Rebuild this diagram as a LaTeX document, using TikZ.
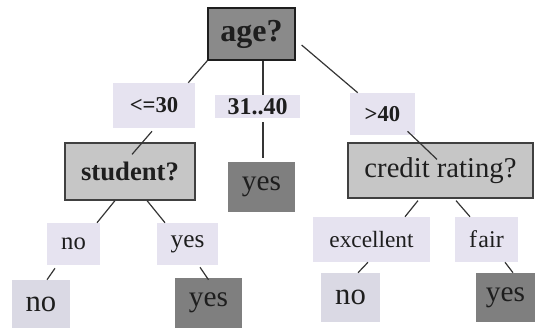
\documentclass[tikz,border=0pt]{standalone}
\usepackage{fontspec}
\setmainfont{Liberation Serif}
\usepackage{tikz}
\usetikzlibrary{calc}

\definecolor{darkbox}{HTML}{8A8A8A}
\definecolor{testbox}{HTML}{C6C6C6}
\definecolor{edgebox}{HTML}{E6E3F0}
\definecolor{nobox}{HTML}{DAD9E4}
\definecolor{ink}{HTML}{1E1E1E}

\tikzset{
  dims/.style 2 args={minimum width=0.75*#1, minimum height=0.75*#2},
  base/.style={inner sep=0pt, text=ink, anchor=center},
  root/.style={base, fill=darkbox, draw=ink, line width=0.9pt,
    font=\fontsize{24}{24}\selectfont\bfseries},
  test/.style={base, fill=testbox, draw=ink!85, line width=0.9pt},
  branch/.style={base, fill=edgebox, font=\fontsize{17.5}{17.5}\selectfont},
  leafyes/.style={base, fill=darkbox!92!black, font=\fontsize{22}{22}\selectfont},
  leafno/.style={base, fill=nobox, font=\fontsize{23}{23}\selectfont},
  link/.style={draw=ink!90, line width=0.9pt}
}

\begin{document}
\begin{tikzpicture}[x=0.75pt,y=-0.75pt]
  \useasboundingbox (0,0) rectangle (536,329);

  \node[root, dims={87}{52}] (age) at (251.5,34) {age?};

  \node[branch, dims={82}{45}, font=\fontsize{17}{17}\selectfont\bfseries] (le30) at (154,105.5) {<=30};
  \node[branch, dims={85}{23}, font=\fontsize{18}{18}\selectfont\bfseries] (mid) at (257.5,106.5) {31..40};
  \node[branch, dims={65}{42}, font=\fontsize{17}{17}\selectfont\bfseries] (gt40) at (382.5,114) {>40};

  \node[test, dims={130}{57}, font=\fontsize{20}{20}\selectfont\bfseries] (student) at (130,171.5) {student?};
  \node[leafyes, dims={67}{50}] (yesmid) at (261.5,187) {yes};
  \node[test, dims={185}{55}, font=\fontsize{21.5}{21.5}\selectfont] (credit) at (440.5,170.5) {credit rating?};

  \node[branch, dims={53}{42}, font=\fontsize{18.5}{18.5}\selectfont] (nolab) at (73.5,244) {no};
  \node[branch, dims={61}{42}, font=\fontsize{19}{19}\selectfont] (yeslab) at (187.5,244) {yes};
  \node[branch, dims={117}{45}] (exc) at (371.5,239.5) {excellent};
  \node[branch, dims={63}{45}, font=\fontsize{18}{18}\selectfont] (fair) at (486.5,239.5) {f\kern1pt air};

  \node[leafno, dims={58}{48}] (nolf) at (41,304) {no};
  \node[leafyes, dims={67}{50}] (yeslf) at (208.5,303) {yes};
  \node[leafno, dims={59}{49}] (nort) at (350.5,297.5) {no};
  \node[leafyes, dims={59}{49}] (yesrt) at (505.5,297.5) {yes};

  % first split
  \draw[link] (age.south west) -- ($(le30.north east)+(-7,0)$);
  \draw[link] ($(age.south)+(11.5,0)$) coordinate (mx) -- (mx |- mid.north);
  \draw[link] ($(mx |- mid.south)+(0,4)$) -- ($(mx |- yesmid.north)+(0,-4)$);
  \draw[link] ($(age.east)+(6,11)$) -- ($(gt40.north west)+(8,0)$);
  \draw[link] ($(le30.south)+(-2,3)$) -- ($(student.north)+(2,12)$);
  \draw[link] ($(gt40.south)+(25,-4)$) -- ($(credit.north)+(-3.5,17)$);

  % student? branch
  \draw[link] ($(student.south)+(-15,0)$) -- ($(nolab.north)+(23.5,0)$);
  \draw[link] ($(student.south)+(17,0)$) -- ($(yeslab.north)+(-22.5,0)$);
  \draw[link] ($(nolab.south)+(-18.5,3)$) -- ($(nolf.north)+(6,0)$);
  \draw[link] ($(yeslab.south)+(12.5,2)$) -- ($(yeslf.north)+(0,2)$);

  % credit rating? branch
  \draw[link] ($(credit.south)+(-22.5,2)$) -- ($(exc.north)+(33.5,0)$);
  \draw[link] ($(credit.south)+(15.5,2)$) -- ($(fair.north)+(-16.5,0)$);
  \draw[link] ($(exc.south)+(-3.5,0)$) -- ($(nort.north)+(7.5,0)$);
  \draw[link] ($(fair.south)+(18.5,0)$) -- ($(yesrt.north)+(7.5,0)$);
\end{tikzpicture}
\end{document}
